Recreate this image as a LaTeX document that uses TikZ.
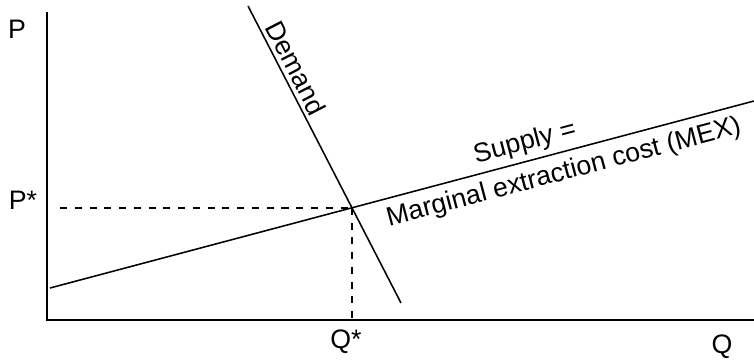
\documentclass[tikz,border=0pt]{standalone}
\usepackage{fontspec}
\setmainfont{Liberation Sans}
\tikzset{
  axisline/.style={line width=1.3pt},
  curveline/.style={line width=1.1pt},
  guideline/.style={line width=1pt, dash pattern=on 5pt off 5.5pt},
  axislabel/.style={font=\fontsize{19}{22}\selectfont, inner sep=0pt},
  curvelabel/.style={axislabel, anchor=center},
}

\begin{document}
\begin{tikzpicture}[x=0.025cm, y=-0.025cm]
    \useasboundingbox (0,0) rectangle (754,360);
    % axes
    \coordinate (origin) at (47,320);
    \coordinate (ytop) at (47,12);
    \coordinate (xend) at (754,320);
    \draw[axisline] (ytop) -- (origin) -- (xend);
    % curves
    \coordinate (d1) at (248,6);
    \coordinate (d2) at (401,303);
    \coordinate (s1) at (50,288);
    \coordinate (s2) at (754,101);
    \draw[curveline] (d1) -- (d2);
    \draw[curveline] (s1) -- (s2);
    \coordinate (eq) at (intersection of d1--d2 and s1--s2);
    \coordinate (pstart) at (60,0 |- eq);
    \coordinate (qfoot) at (eq |- origin);
    \draw[guideline] (pstart) -- (eq);
    \draw[guideline] (eq) -- (qfoot);
    % labels
    \node[axislabel] (plab) at (17,29) {P};
    \node[axislabel] (pstar) at (23,200) {P*};
    \node[axislabel] (qstar) at (346,342) {Q*};
    \node[axislabel] (qlab) at (722,347) {Q};
    \node[curvelabel, rotate=-62.7] (demand) at (296,68) {Demand};
    \node[curvelabel, rotate=14.8] (supply) at (525,143) {Supply =};
    \node[curvelabel, rotate=14.8] (mex) at (564,173) {Marginal extraction cost (MEX)};
\end{tikzpicture}
\end{document}
